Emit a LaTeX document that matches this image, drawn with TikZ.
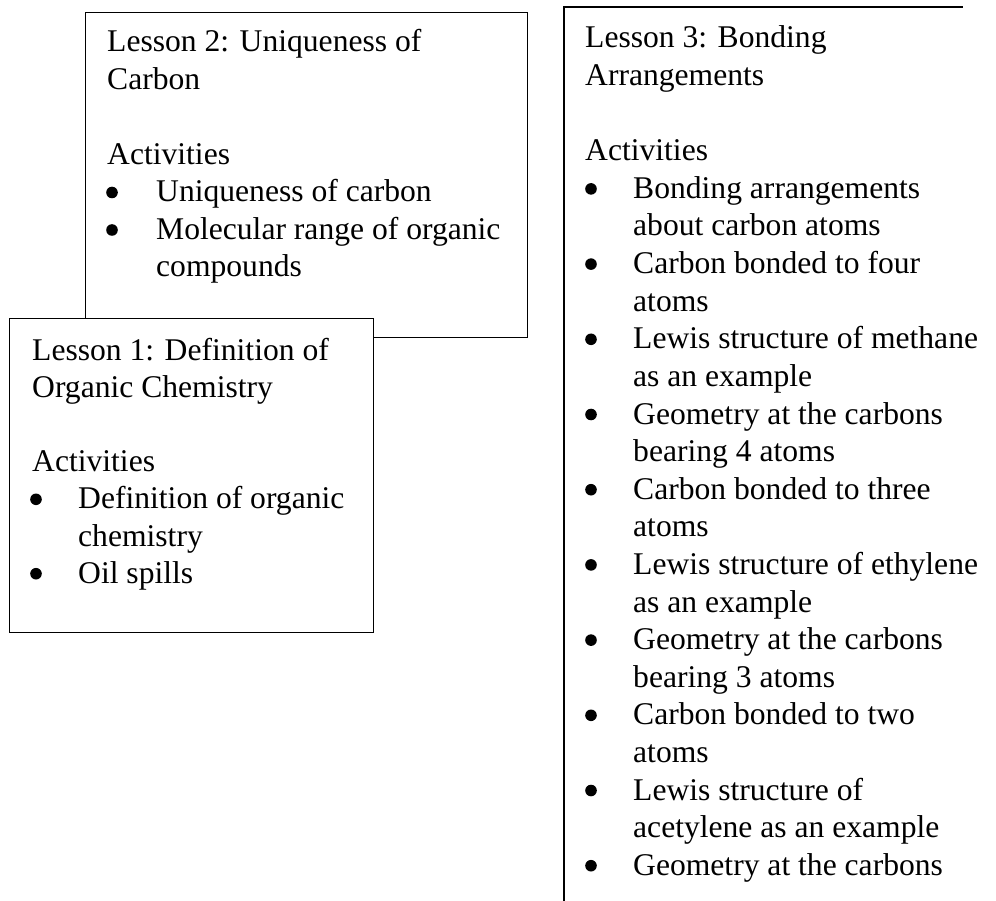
\documentclass[tikz,border=0pt]{standalone}
\usepackage{fontspec}
\setmainfont{Liberation Serif}
\begin{document}
\begin{tikzpicture}[x=1pt,y=-1pt,
  boxframe/.style={draw=black, line width=1.3pt, inner sep=0pt, fill=white},
  openframe/.style={inner sep=0pt},
  txt/.style={anchor=base west, inner sep=0pt, font=\fontsize{31.6}{37.5}\selectfont},
  bulletdot/.style={fill=black}]
\useasboundingbox (0,0) rectangle (996,901);
% Lesson 2 box
\node[boxframe, anchor=north west, minimum width=442pt, minimum height=325pt] (l2) at (85,12) {};
\foreach \k/\t [count=\i from 0] in {T/Lesson 2: Uniqueness of, T/Carbon, N/, T/Activities, B/Uniqueness of carbon, B/Molecular range of organic, C/compounds}{
  \if\k T \node[txt] (l2t\i) at (107,{52+37.5*\i}) {\t};\fi
  \if\k B \fill[bulletdot] (112,{52+37.5*\i-9.5}) circle (5.8pt); \node[txt] (l2t\i) at (156,{52+37.5*\i}) {\t};\fi
  \if\k C \node[txt] (l2t\i) at (156,{52+37.5*\i}) {\t};\fi
}
% Lesson 1 box
\node[boxframe, anchor=north west, minimum width=364pt, minimum height=314pt] (l1) at (9,318) {};
\foreach \k/\t [count=\i from 0] in {T/Lesson 1: Definition of, T/Organic Chemistry, N/, T/Activities, B/Definition of organic, C/chemistry, B/Oil spills}{
  \if\k T \node[txt] (l1t\i) at (32,{360+37.2*\i}) {\t};\fi
  \if\k B \fill[bulletdot] (36,{360+37.2*\i-9.5}) circle (5.8pt); \node[txt] (l1t\i) at (78,{360+37.2*\i}) {\t};\fi
  \if\k C \node[txt] (l1t\i) at (78,{360+37.2*\i}) {\t};\fi
}
% Lesson 3 box (open at right and bottom)
\node[openframe, anchor=north west, minimum width=399pt, minimum height=900pt] (l3) at (564,7) {};
\draw[line width=1.3pt] (l3.south west) -- (l3.north west) -- (l3.north east);
\foreach \k/\t [count=\i from 0] in {T/Lesson 3: Bonding, T/Arrangements, N/, T/Activities,
  B/Bonding arrangements, C/about carbon atoms,
  B/Carbon bonded to four, C/atoms,
  B/Lewis structure of methane, C/as an example,
  B/Geometry at the carbons, C/bearing 4 atoms,
  B/Carbon bonded to three, C/atoms,
  B/Lewis structure of ethylene, C/as an example,
  B/Geometry at the carbons, C/bearing 3 atoms,
  B/Carbon bonded to two, C/atoms,
  B/Lewis structure of, C/acetylene as an example,
  B/Geometry at the carbons}{
  \if\k T \node[txt] (l3t\i) at (585,{48+37.6*\i}) {\t};\fi
  \if\k B \fill[bulletdot] (591,{48+37.6*\i-9.5}) circle (5.8pt); \node[txt] (l3t\i) at (633,{48+37.6*\i}) {\t};\fi
  \if\k C \node[txt] (l3t\i) at (633,{48+37.6*\i}) {\t};\fi
}
\end{tikzpicture}
\end{document}
